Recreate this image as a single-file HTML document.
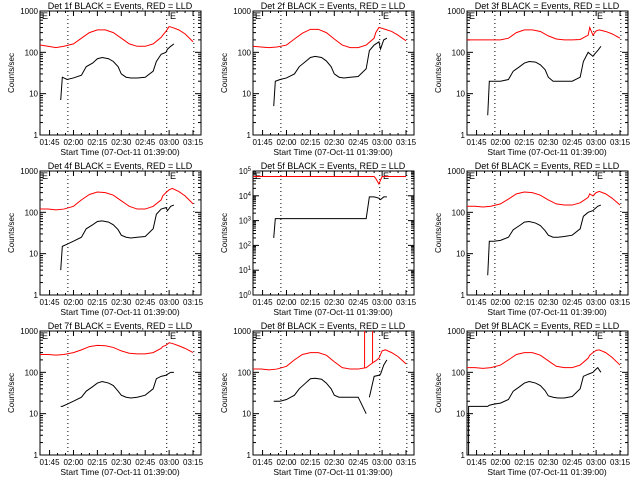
<!DOCTYPE html>
<html><head><meta charset="utf-8"><style>
html,body{margin:0;padding:0;background:#fff}
svg{display:block;font-family:"Liberation Sans",sans-serif}
</style></head><body>
<svg id="chart" width="640" height="480" xmlns="http://www.w3.org/2000/svg"></svg>
<script>
// time in minutes after 01:39:00
const xTickLabels = ["01:45","02:00","02:15","02:30","02:45","03:00","03:15"];
const xTickMinutes = [6,21,36,51,66,81,96];
const markerMinutes = [17.5,79.5,96.5];
const tBlack = [13,14,17,21,26,29,33,36,39,43,46,49,51,54,57,61,66,71,73,76,79,80,82,84];
const tRed = [0,5,10,15,21,26,31,36,41,46,51,56,61,66,71,76,77,79,81,83,87,91,96];
const detNames = ["1f","2f","3f","4f","5f","6f","7f","8f","9f"];
const black1 = [7,25,22,24,28,45,55,70,75,70,60,45,30,25,24,24,25,35,60,90,100,120,140,160];
const red1 = [150,140,130,140,160,220,300,350,350,300,220,160,140,140,160,230,260,320,420,400,350,280,180];
const black2 = [5,20,22,24,30,45,60,75,80,75,62,45,30,25,24,25,26,40,110,150,180,120,200,220];
const red2 = [140,135,130,135,150,210,290,360,360,300,210,150,130,130,150,220,300,400,380,360,320,260,190];
const black3 = [3,20,20,20,22,35,45,55,60,58,50,38,25,20,20,20,20,25,60,100,80,90,110,140];
const red3 = [200,200,200,200,200,220,300,350,350,320,250,210,200,200,205,260,400,260,330,350,320,280,220];
const black4 = [4,15,17,20,25,40,50,60,62,58,50,38,28,25,24,25,26,40,90,120,130,110,140,150];
const red4 = [120,120,115,120,140,200,270,310,300,260,190,140,120,120,140,200,250,300,350,380,320,250,160];
const black5 = [200,1200,1200,1200,1200,1200,1200,1200,1200,1200,1200,1200,1200,1200,1200,1200,1200,1200,9000,9000,8000,7000,9000,9000];
const red5 = [60000,60000,60000,60000,60000,60000,60000,60000,60000,60000,60000,60000,60000,60000,60000,60000,50000,30000,60000,60000,60000,60000,60000];
const black6 = [3,20,20,21,25,38,48,58,60,55,48,36,28,25,25,26,28,40,80,100,110,120,140,150];
const red6 = [140,140,135,140,160,210,280,310,300,260,200,160,150,150,170,230,280,250,300,320,280,220,150];
const black7 = [15,15,17,20,25,35,45,55,60,55,48,35,28,25,24,25,28,40,70,80,85,90,100,100];
const red7 = [270,270,260,270,300,350,420,450,440,400,330,290,280,280,300,380,420,450,520,500,440,380,300];
const black8 = [20,20,20,22,28,40,55,70,72,68,55,40,28,25,25,25,25,10,25,80,85,90,150,200];
const red8 = [120,120,115,120,140,200,270,300,300,260,180,130,120,120,130,180,190,220,330,350,300,240,160];
const black9 = [15,16,17,18,22,35,45,55,60,55,48,36,27,25,24,24,26,40,80,90,100,110,130,100];
const red9 = [130,130,125,130,150,200,270,300,300,260,190,140,130,130,150,220,260,300,340,350,300,230,150];
const blackSeries = [black1,black2,black3,black4,black5,black6,black7,black8,black9];
const redSeries = [red1,red2,red3,red4,red5,red6,red7,red8,red9];
const yMaxExp = [3,3,3,3,5,3,3,3,3];
const black9Start = [[1,1],[1,15]];
const spike8Minutes = [70,75];
const spike8Base = [130,170];
const spike8Peak = [2000,2000];
const black8GapIndex = 17;

const svg = document.getElementById('chart');
const NS = 'http://www.w3.org/2000/svg';
function mk(tag, attrs, parent){const e=document.createElementNS(NS,tag);for(const k in attrs)e.setAttribute(k,attrs[k]);parent.appendChild(e);return e;}
const L=40,R=201,T=11,B=135,TMAX=101;
const colX=[0,213,427], rowY=[0,160,320];
for(let p=0;p<9;p++){
  const ox=colX[p%3], oy=rowY[Math.floor(p/3)];
  const g=mk('g',{transform:`translate(${ox},${oy})`},svg);
  
  
  const emax=yMaxExp[p];
  const xs=t=>L+(t/TMAX)*(R-L);
  const ys=v=>Math.max(T,B-(Math.log10(Math.max(v,1))/emax)*(B-T));
  const title=mk('text',{x:120,y:9,'font-size':9,'text-anchor':'middle'},g);
  title.textContent=`Det ${detNames[p]} BLACK = Events, RED = LLD`;
  
  
  const yt=mk('text',{x:0,y:0,'font-size':8,'text-anchor':'middle',transform:`translate(14,${(T+B)/2}) rotate(-90)`},g);
  yt.textContent='Counts/sec';
  
  
  const xt=mk('text',{x:120,y:155,'font-size':8.5,'text-anchor':'middle'},g);
  xt.textContent='Start Time (07-Oct-11 01:39:00)';
  
  
  const box=mk('rect',{x:L,y:T,width:R-L,height:B-T,fill:'none',stroke:'#000','stroke-width':1},g);
  
  
  xTickMinutes.forEach((m,i)=>{
    const x=xs(m);
    mk('line',{x1:x,y1:B,x2:x,y2:B-5,stroke:'#000'},g);
    mk('line',{x1:x,y1:T,x2:x,y2:T+5,stroke:'#000'},g);
    const lb=mk('text',{x:x,y:B+10,'font-size':8,'text-anchor':'middle'},g);
    lb.textContent=xTickLabels[i];
    
    
    for(let k=1;k<3;k++){const xm=xs(m+5*k);if(xm<R){mk('line',{x1:xm,y1:B,x2:xm,y2:B-2,stroke:'#000'},g);mk('line',{x1:xm,y1:T,x2:xm,y2:T+2,stroke:'#000'},g);}}
  });
  for(let e=0;e<=emax;e++){
    const y=ys(Math.pow(10,e));
    mk('line',{x1:L,y1:y,x2:L+6,y2:y,stroke:'#000'},g);
    mk('line',{x1:R,y1:y,x2:R-6,y2:y,stroke:'#000'},g);
    const lb=mk('text',{x:L-2,y:y+3,'font-size':8,'text-anchor':'end'},g);
    if(emax===3) lb.textContent=String(Math.pow(10,e));
    else { lb.textContent='10'; const s=mk('tspan',{dy:-3,'font-size':6},lb); s.textContent=String(e); }
    
    
    if(e<emax) for(let k=2;k<10;k++){const ym=ys(k*Math.pow(10,e));mk('line',{x1:L,y1:ym,x2:L+3,y2:ym,stroke:'#000'},g);mk('line',{x1:R,y1:ym,x2:R-3,y2:ym,stroke:'#000'},g);}
  }
  markerMinutes.forEach(m=>{
    const l=mk('line',{x1:xs(m),y1:T,x2:xs(m),y2:B,stroke:'#000','stroke-dasharray':'1,3'},g);
    
    
  });
  [42,170].forEach(ex=>{
    const e=mk('text',{x:ex,y:T+8,'font-size':9},g);e.textContent='E';
    
    
  });
  const red=mk('polyline',{points:tRed.map((t,i)=>xs(t)+','+ys(redSeries[p][i])).join(' '),fill:'none',stroke:'#f00','stroke-width':1},g);
  
  
  if(p===7){
    spike8Minutes.forEach((m,i)=>{
      const s=mk('line',{x1:xs(m),y1:ys(spike8Base[i]),x2:xs(m),y2:ys(spike8Peak[i]),stroke:'#f00'},g);
      
      
    });
  }
  let bpts=tBlack.map((t,i)=>xs(t)+','+ys(blackSeries[p][i]));
  if(p===8) bpts=black9Start.map(([t,v])=>xs(t)+','+ys(v)).concat(bpts);
  const segs = p===7 ? [bpts.slice(0,black8GapIndex+1),bpts.slice(black8GapIndex+1)] : [bpts];
  segs.forEach(sg=>{
    const blk=mk('polyline',{points:sg.join(' '),fill:'none',stroke:'#000','stroke-width':1},g);
    
    
  });
}
</script>
</body></html>
